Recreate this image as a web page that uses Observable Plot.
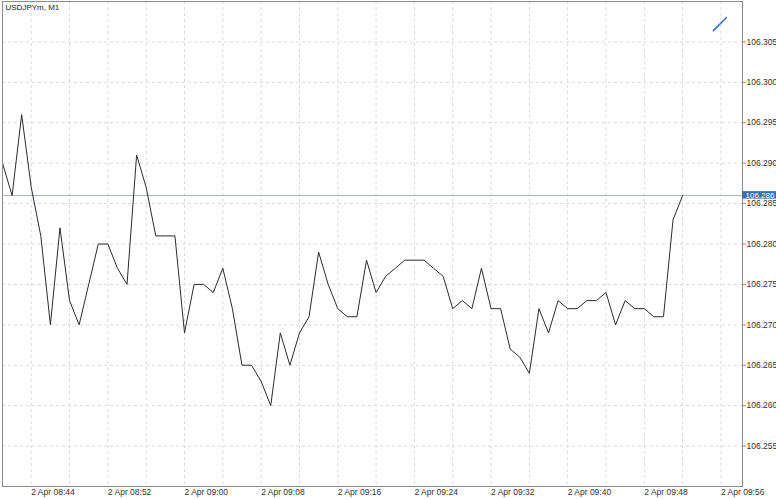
<!DOCTYPE html>
<html>
<head>
<meta charset="utf-8">
<script src="https://cdn.jsdelivr.net/npm/d3@7"></script>
<script src="https://cdn.jsdelivr.net/npm/@observablehq/plot@0.6"></script>
<style>
  html, body { margin: 0; padding: 0; background: #fff; }
  #chart { width: 776px; height: 499px; }
</style>
</head>
<body>
<div id="chart"></div>
<script>
const title = "USDJPYm, M1";
const day = "2018-04-02";
const times = [
  "08:41","08:42","08:43","08:44","08:45","08:46","08:47","08:48","08:49","08:50",
  "08:51","08:52","08:53","08:54","08:55","08:56","08:57","08:58","08:59","09:00",
  "09:01","09:02","09:03","09:04","09:05","09:06","09:07","09:08","09:09","09:10",
  "09:11","09:12","09:13","09:14","09:15","09:16","09:17","09:18","09:19","09:20",
  "09:21","09:22","09:23","09:24","09:25","09:26","09:27","09:28","09:29","09:30",
  "09:31","09:32","09:33","09:34","09:35","09:36","09:37","09:38","09:39","09:40",
  "09:41","09:42","09:43","09:44","09:45","09:46","09:47","09:48","09:49","09:50",
  "09:51","09:52"
];
const closes = [
  106.290,106.286,106.296,106.287,106.281,106.270,106.282,106.273,106.270,106.275,
  106.280,106.280,106.277,106.275,106.291,106.287,106.281,106.281,106.281,106.269,
  106.275,106.275,106.274,106.277,106.272,106.265,106.265,106.263,106.260,106.269,
  106.265,106.269,106.271,106.279,106.275,106.272,106.271,106.271,106.278,106.274,
  106.276,106.277,106.278,106.278,106.278,106.277,106.276,106.272,106.273,106.272,
  106.277,106.272,106.272,106.267,106.266,106.264,106.272,106.269,106.273,106.272,
  106.272,106.273,106.273,106.274,106.270,106.273,106.272,106.272,106.271,106.271,
  106.283,106.286
];
const bid = 106.286;
const yTicks = [106.255,106.260,106.265,106.270,106.275,106.280,106.285,106.290,106.295,106.300,106.305];
const xLabelTicks = ["08:44","08:52","09:00","09:08","09:16","09:24","09:32","09:40","09:48","09:56"];
const xDomainTimes = ["08:41:00","09:58:15"];
const yDomain = [106.250, 106.310];
const markerTimes = ["09:55:12","09:56:34"];
const markerValues = [106.3064, 106.3080];

const parse = s => new Date(`${day}T${s.length === 5 ? s + ":00" : s}Z`);
const data = times.map((t, i) => ({t: parse(t), v: closes[i]}));
const xDomain = xDomainTimes.map(parse);
const gridTimes = d3.utcMinute.every(4).range(parse("08:44"), parse("09:57"));
const marker = markerTimes.map((t, i) => ({t: parse(t), v: markerValues[i]}));
const labelEnd = new Date(+xDomain[1] + 3.6 * 60000);
const fmt = d3.utcFormat("%-d %b %H:%M");

const font = "'Liberation Sans', Arial, Helvetica, sans-serif";

const chart = Plot.plot({
  width: 776,
  height: 499,
  marginLeft: 2,
  marginRight: 34,
  marginTop: 1,
  marginBottom: 13,
  style: {fontFamily: font, fontSize: "8.5px", color: "#333", background: "#fff"},
  x: {type: "utc", domain: xDomain, label: null},
  y: {domain: yDomain, label: null},
  marks: [
    Plot.gridX(gridTimes, {stroke: "#dadada", strokeOpacity: 1, strokeDasharray: "3,3"}),
    Plot.gridY(yTicks, {stroke: "#dadada", strokeOpacity: 1, strokeDasharray: "3,3"}),
    Plot.ruleY([bid], {stroke: "#a3b8cc", strokeWidth: 1}),
    Plot.line(data, {x: "t", y: "v", stroke: "#2b2b2b", strokeWidth: 1}),
    Plot.line(marker, {x: "t", y: "v", stroke: "#2a6fd6", strokeWidth: 1.5}),
    Plot.frame({stroke: "#8c8c8c"}),
    Plot.axisY(yTicks, {anchor: "right", label: null, tickSize: 3, tickPadding: 1, tickFormat: d => d.toFixed(3), stroke: "#8c8c8c", fill: "#333"}),
    Plot.axisX(xLabelTicks.map(parse), {anchor: "bottom", label: null, tickSize: 0, tickPadding: 2, tickFormat: fmt, textAnchor: "start", fill: "#333"}),
    Plot.rect([bid], {x1: xDomain[1], x2: labelEnd, y1: d => d - 0.00045, y2: d => d + 0.00048, fill: "#3d6fa8"}),
    Plot.text([bid], {y: d => d, frameAnchor: "right", dx: 3, dy: -0.5, textAnchor: "start", fill: "white", text: d => d.toFixed(3), fontSize: 8}),
    Plot.text([title], {frameAnchor: "top-left", dx: 3, dy: 3, lineAnchor: "top", textAnchor: "start", fill: "#222", fontSize: 8, text: d => d})
  ]
});
document.getElementById("chart").appendChild(chart);
</script>
</body>
</html>
